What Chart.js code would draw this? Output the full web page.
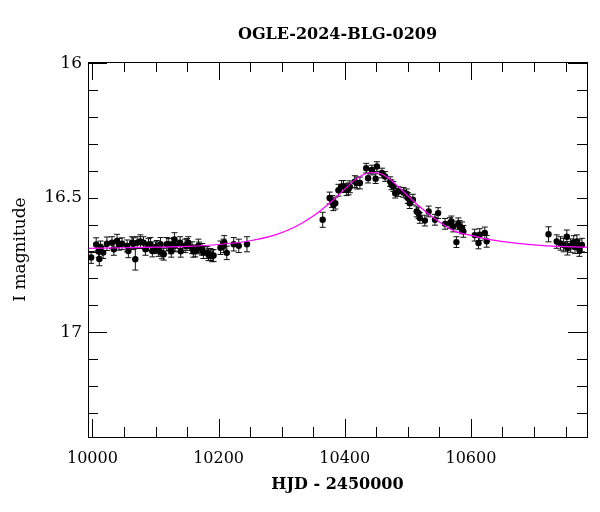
<!DOCTYPE html>
<html>
<head>
<meta charset="utf-8">
<script src="https://cdn.jsdelivr.net/npm/chart.js@4.4.1/dist/chart.umd.min.js"></script>
<style>
  html, body { margin: 0; padding: 0; background: #fff; }
  #wrap { width: 600px; height: 512px; }
</style>
</head>
<body>
<div id="wrap"><canvas id="lightCurve"></canvas></div>
<script>
// observations: HJD - 2450000, I magnitude, error
const obsTime = [
  9998, 10006, 10010, 10011, 10013, 10017, 10023, 10031, 10034, 10039, 10042, 10047,
  10055, 10057, 10063, 10065, 10068, 10071, 10076, 10081, 10084, 10089, 10092, 10095,
  10100, 10102, 10105, 10108, 10110, 10113, 10118, 10121, 10124, 10125, 10129, 10130,
  10131, 10139, 10140, 10147, 10150, 10152, 10158, 10160, 10163, 10168, 10169, 10174,
  10176, 10182, 10184, 10187, 10190, 10192, 10203, 10208, 10209, 10213, 10224, 10232,
  10245,
  10365, 10376, 10380, 10382, 10385, 10390, 10395, 10398, 10403, 10406, 10408, 10416,
  10419, 10424, 10434, 10437, 10443, 10449, 10451, 10459, 10464, 10472, 10474, 10477,
  10480, 10485, 10493, 10498, 10500, 10503, 10508, 10514, 10517, 10519, 10527, 10533,
  10543, 10548, 10559, 10567, 10569, 10572, 10577, 10580, 10582, 10586, 10588, 10606,
  10612, 10614, 10622, 10625,
  10723, 10736, 10742, 10747, 10752, 10753, 10758, 10763, 10765, 10768, 10771, 10772,
  10776
];
const obsMag = [
  16.722, 16.674, 16.700, 16.728, 16.683, 16.704, 16.671, 16.667, 16.692, 16.661, 16.673, 16.671,
  16.679, 16.698, 16.667, 16.671, 16.729, 16.667, 16.663, 16.667, 16.692, 16.674, 16.673, 16.698,
  16.686, 16.681, 16.696, 16.673, 16.705, 16.710, 16.673, 16.674, 16.686, 16.699, 16.673, 16.655,
  16.679, 16.667, 16.699, 16.679, 16.674, 16.667, 16.686, 16.699, 16.698, 16.679, 16.687, 16.692,
  16.704, 16.704, 16.712, 16.711, 16.716, 16.715, 16.686, 16.679, 16.666, 16.705, 16.673, 16.679,
  16.673,
  16.582, 16.501, 16.514, 16.526, 16.520, 16.472, 16.458, 16.458, 16.470, 16.467, 16.459, 16.440,
  16.445, 16.445, 16.390, 16.427, 16.397, 16.429, 16.384, 16.408, 16.421, 16.440, 16.452, 16.458,
  16.483, 16.477, 16.480, 16.485, 16.501, 16.520, 16.507, 16.551, 16.557, 16.575, 16.585, 16.551,
  16.582, 16.557, 16.597, 16.594, 16.588, 16.607, 16.665, 16.597, 16.607, 16.612, 16.625, 16.639,
  16.668, 16.637, 16.631, 16.662,
  16.636, 16.663, 16.670, 16.676, 16.645, 16.688, 16.678, 16.666, 16.682, 16.663, 16.682, 16.693,
  16.676
];
const obsErr = [
  0.022, 0.025, 0.022, 0.025, 0.022, 0.022, 0.025, 0.022, 0.022, 0.025, 0.022, 0.022,
  0.022, 0.025, 0.022, 0.022, 0.040, 0.022, 0.025, 0.022, 0.022, 0.022, 0.025, 0.022,
  0.022, 0.022, 0.022, 0.025, 0.022, 0.022, 0.025, 0.022, 0.022, 0.022, 0.025, 0.025,
  0.022, 0.022, 0.022, 0.025, 0.022, 0.022, 0.022, 0.022, 0.022, 0.025, 0.022, 0.022,
  0.022, 0.022, 0.022, 0.022, 0.022, 0.022, 0.025, 0.025, 0.025, 0.025, 0.025, 0.025,
  0.028,
  0.028, 0.022, 0.022, 0.022, 0.022, 0.022, 0.022, 0.022, 0.022, 0.022, 0.022, 0.022,
  0.022, 0.022, 0.018, 0.018, 0.018, 0.018, 0.018, 0.018, 0.018, 0.018, 0.018, 0.018,
  0.018, 0.018, 0.018, 0.018, 0.020, 0.020, 0.020, 0.020, 0.020, 0.020, 0.020, 0.020,
  0.020, 0.020, 0.020, 0.020, 0.020, 0.020, 0.020, 0.022, 0.022, 0.022, 0.022, 0.022,
  0.022, 0.022, 0.022, 0.022,
  0.028, 0.025, 0.025, 0.025, 0.025, 0.025, 0.025, 0.025, 0.025, 0.025, 0.025, 0.025,
  0.025
];

// microlensing model curve
const fitTime = [
  9993, 10050, 10100, 10150, 10200, 10250, 10290, 10320, 10350, 10380, 10400, 10420,
  10435, 10445, 10455, 10470, 10490, 10510, 10530, 10550, 10575, 10600, 10630, 10670,
  10720, 10784
];
const fitMag = [
  16.688, 16.686, 16.684, 16.681, 16.674, 16.660, 16.638, 16.610, 16.568, 16.512, 16.468, 16.427,
  16.409, 16.406, 16.409, 16.428, 16.470, 16.515, 16.555, 16.590, 16.625, 16.640, 16.656, 16.669,
  16.679, 16.684
];

const xLabelTicks = [10000, 10200, 10400, 10600];
const xMinorTicks = [10050, 10100, 10150, 10250, 10300, 10350, 10450, 10500, 10550, 10650, 10700, 10750];
const yLabelTicks = [16, 16.5, 17];
const yMajorTicks = [16, 17];
const yMinorTicks = [16.1, 16.2, 16.3, 16.4, 16.5, 16.6, 16.7, 16.8, 16.9, 17.1, 17.2, 17.3];

const FONT = "'DejaVu Serif', serif";

const errorBars = {
  id: "errorBars",
  beforeDatasetsDraw(chart) {
    const { ctx, scales: { x, y } } = chart;
    ctx.save();
    ctx.strokeStyle = "#111";
    ctx.lineWidth = 1;
    obsTime.forEach((t, i) => {
      const px = x.getPixelForValue(t);
      const top = y.getPixelForValue(obsMag[i] - obsErr[i]);
      const bot = y.getPixelForValue(obsMag[i] + obsErr[i]);
      ctx.beginPath();
      ctx.moveTo(px, top);
      ctx.lineTo(px, bot);
      ctx.moveTo(px - 3, top);
      ctx.lineTo(px + 3, top);
      ctx.moveTo(px - 3, bot);
      ctx.lineTo(px + 3, bot);
      ctx.stroke();
    });
    ctx.restore();
  },
};

const frameAndTicks = {
  id: "frameAndTicks",
  afterDraw(chart) {
    const { ctx, chartArea: a, scales: { x, y } } = chart;
    ctx.save();
    ctx.strokeStyle = "#000";
    ctx.lineWidth = 1;
    ctx.strokeRect(a.left + 0.5, a.top + 0.5, a.right - a.left, a.bottom - a.top);

    const vTick = (v, len) => {
      const px = Math.round(x.getPixelForValue(v)) + 0.5;
      ctx.moveTo(px, a.bottom);
      ctx.lineTo(px, a.bottom - len);
      ctx.moveTo(px, a.top);
      ctx.lineTo(px, a.top + len);
    };
    const hTick = (v, len) => {
      const py = Math.round(y.getPixelForValue(v)) + 0.5;
      ctx.moveTo(a.left, py);
      ctx.lineTo(a.left + len, py);
      ctx.moveTo(a.right, py);
      ctx.lineTo(a.right - len, py);
    };
    ctx.beginPath();
    xLabelTicks.forEach((v) => vTick(v, 18));
    xMinorTicks.forEach((v) => vTick(v, 10));
    yMajorTicks.forEach((v) => hTick(v, 19));
    yMinorTicks.forEach((v) => hTick(v, 10));
    ctx.stroke();

    ctx.fillStyle = "#000";
    ctx.textAlign = "center";
    ctx.textBaseline = "middle";
    ctx.font = `bold 16px ${FONT}`;
    ctx.fillText("OGLE-2024-BLG-0209", (a.left + a.right) / 2, 35);
    ctx.fillText("HJD - 2450000", (a.left + a.right) / 2, 485);

    ctx.font = `17px ${FONT}`;
    ctx.translate(21, (a.top + a.bottom) / 2);
    ctx.rotate(-Math.PI / 2);
    ctx.fillText("I magnitude", 0, 0);
    ctx.restore();
  },
};

new Chart(document.getElementById("lightCurve"), {
  type: "scatter",
  data: {
    datasets: [
      {
        label: "model",
        data: fitTime.map((t, i) => ({ x: t, y: fitMag[i] })),
        showLine: true,
        borderColor: "#ff00ff",
        borderWidth: 1.2,
        pointRadius: 0,
        cubicInterpolationMode: "monotone",
        order: 0,
      },
      {
        label: "OGLE",
        data: obsTime.map((t, i) => ({ x: t, y: obsMag[i] })),
        pointRadius: 3.2,
        pointBackgroundColor: "#000",
        pointBorderWidth: 0,
        order: 1,
      },
    ],
  },
  options: {
    responsive: true,
    maintainAspectRatio: false,
    animation: false,
    layout: { padding: { top: 62, right: 13, left: 0, bottom: 0 } },
    plugins: { legend: { display: false }, tooltip: { enabled: false } },
    scales: {
      x: {
        type: "linear",
        min: 9993,
        max: 10784,
        grid: { display: false, drawTicks: false },
        border: { display: false },
        afterFit: (scale) => { scale.height = 75; },
        afterBuildTicks: (scale) => { scale.ticks = xLabelTicks.map((v) => ({ value: v })); },
        ticks: {
          padding: 12,
          color: "#000",
          font: { family: FONT, size: 16 },
          callback: (v) => String(v),
        },
      },
      y: {
        type: "linear",
        reverse: true,
        min: 15.995,
        max: 17.39,
        grid: { display: false, drawTicks: false },
        border: { display: false },
        afterFit: (scale) => { scale.width = 88; },
        afterBuildTicks: (scale) => { scale.ticks = yLabelTicks.map((v) => ({ value: v })); },
        ticks: {
          padding: 6,
          color: "#000",
          font: { family: FONT, size: 17 },
          callback: (v) => String(v),
        },
      },
    },
  },
  plugins: [errorBars, frameAndTicks],
});
</script>
</body>
</html>
